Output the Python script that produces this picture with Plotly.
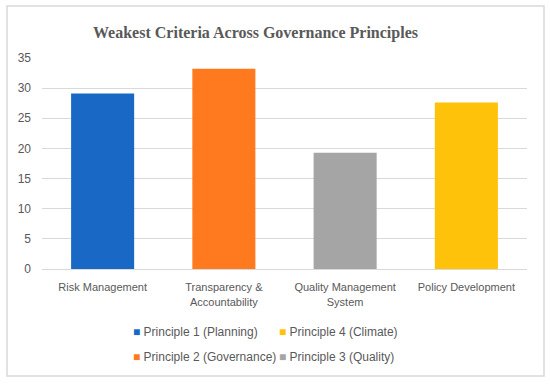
import plotly.graph_objects as go

categories = ["Risk Management", "Transparency &<br>Accountability", "Quality Management<br>System", "Policy Development"]
series_names = ["Principle 1 (Planning)", "Principle 2 (Governance)", "Principle 3 (Quality)", "Principle 4 (Climate)"]
values = [29.1, 33.2, 19.3, 27.6]
colors = ["#1a68c6", "#ff7a1e", "#a5a5a5", "#ffc20a"]
legend_col = [0, 0, 1, 1]
legend_row = [0, 1, 1, 0]

fig = go.Figure()
for name, cat, val, col in zip(series_names, categories, values, colors):
    fig.add_trace(go.Bar(
        x=[cat], y=[val], name=name, showlegend=False,
        marker=dict(color=col, line=dict(width=0)),
        offsetgroup="a",
    ))

L, R, T, B = 42, 23, 58, 115
pw = 550 - L - R
ph = 384 - T - B

def px2x(px):
    return (px - L) / pw

def py2y(py):
    return (384 - B - py) / ph

font_main = "Liberation Sans"
gray = "#595959"

col_x = [131, 277]
row_y = [332, 357]
annotations = []
for name, col, c, r in zip(series_names, colors, legend_col, legend_row):
    annotations.append(dict(
        xref="paper", yref="paper", x=px2x(col_x[c]), y=py2y(row_y[r]),
        xanchor="left", yanchor="middle", showarrow=False,
        text=f"<span style='color:{col}'>■</span> {name}",
        font=dict(family=font_main, size=12, color=gray),
    ))

fig.update_layout(
    width=550, height=384,
    margin=dict(l=L, r=R, t=T, b=B),
    paper_bgcolor="white", plot_bgcolor="white",
    barmode="overlay", bargap=0.48,
    showlegend=False,
    title=dict(text="<b>Weakest Criteria Across Governance Principles</b>",
               x=255.5 / 550, xanchor="center", y=1 - 32 / 384, yanchor="middle",
               font=dict(family="Liberation Serif", size=16, color=gray)),
    font=dict(family=font_main, size=11, color=gray),
    xaxis=dict(categoryorder="array", categoryarray=categories, showgrid=False,
               showline=True, linecolor="#d9d9d9", ticks="", ticklabelstandoff=8,
               tickfont=dict(size=11, color=gray)),
    yaxis=dict(range=[0, 35], dtick=5, showgrid=True, gridcolor="#d9d9d9", gridwidth=1,
               zeroline=False, showline=False, ticks="", ticklabelstandoff=10,
               tickfont=dict(size=12, color=gray)),
    annotations=annotations,
    shapes=[dict(type="rect", xref="paper", yref="paper",
                 x0=px2x(7), x1=px2x(544), y0=py2y(376), y1=py2y(6),
                 line=dict(color="#d9d9d9", width=1.5), fillcolor="rgba(0,0,0,0)", layer="below")],
)

fig.write_html("out.html", config={"displayModeBar": False},
               post_script="document.body.style.margin='0';")
